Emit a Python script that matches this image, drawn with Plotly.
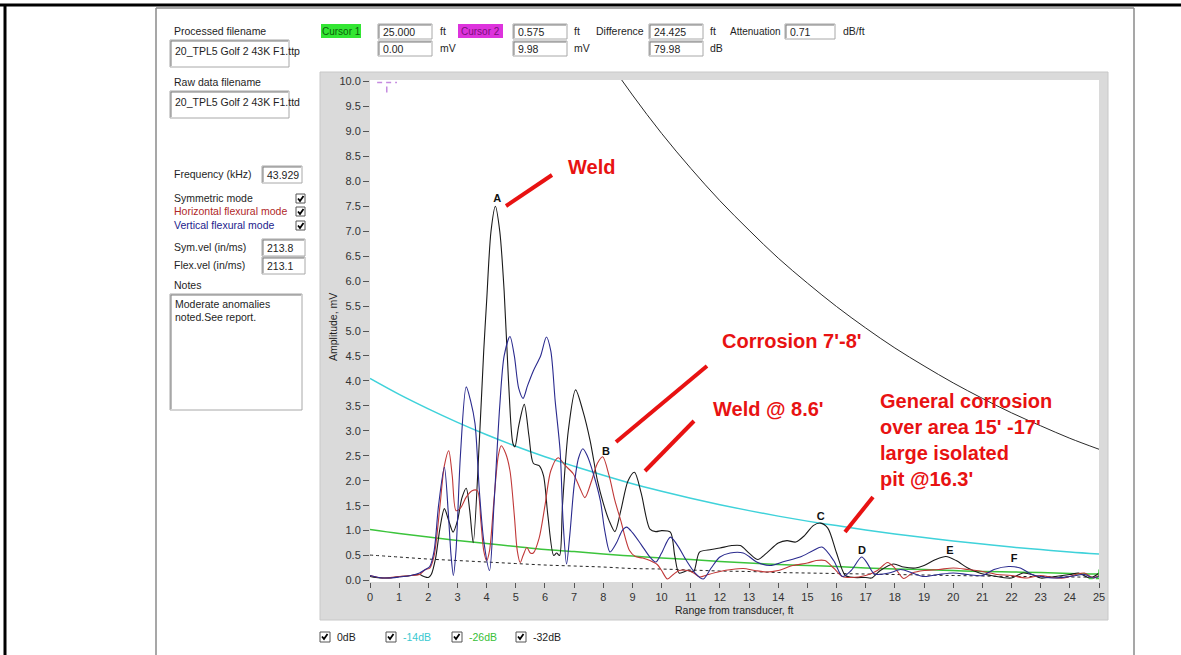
import plotly.graph_objects as go

# ---------------- data ----------------
# distance-amplitude (DAC) reference curves, sampled every foot
dac_x = list(range(0, 26))
dac_0db = [20.3, 18.71, 17.24, 15.89, 14.64, 13.49, 12.43, 11.46, 10.56, 9.73, 8.96, 8.26, 7.61,
           7.02, 6.46, 5.96, 5.49, 5.06, 4.66, 4.30, 3.96, 3.65, 3.36, 3.10, 2.85, 2.63]
dac_14db = [4.05, 3.73, 3.44, 3.17, 2.92, 2.69, 2.48, 2.29, 2.11, 1.94, 1.79, 1.65, 1.52,
            1.40, 1.29, 1.19, 1.10, 1.01, 0.93, 0.86, 0.79, 0.73, 0.67, 0.62, 0.57, 0.53]
dac_26db = [1.02, 0.94, 0.87, 0.80, 0.74, 0.68, 0.62, 0.58, 0.53, 0.49, 0.45, 0.42, 0.38,
            0.35, 0.32, 0.30, 0.28, 0.25, 0.23, 0.22, 0.20, 0.18, 0.17, 0.16, 0.14, 0.13]
dac_32db = [0.51, 0.47, 0.43, 0.40, 0.37, 0.34, 0.31, 0.29, 0.27, 0.24, 0.23, 0.21, 0.19,
            0.18, 0.16, 0.15, 0.14, 0.13, 0.12, 0.11, 0.10, 0.09, 0.08, 0.08, 0.07, 0.07]

# symmetric mode (black)
sym_x = [0.0, 0.2, 0.5, 0.8, 1.0, 1.3, 1.5, 1.7, 1.85, 2.0, 2.1, 2.25, 2.4, 2.55, 2.7, 2.85, 3.0,
         3.15, 3.3, 3.42, 3.54, 3.75, 3.9, 4.0, 4.15, 4.3, 4.45, 4.6, 4.75, 4.9, 4.97, 5.1, 5.29,
         5.45, 5.6, 5.8, 5.95, 6.1, 6.3, 6.4, 6.5, 6.6, 6.8, 7.05, 7.3, 7.55, 7.8, 8.0, 8.2, 8.4,
         8.6, 8.85, 9.07, 9.3, 9.6, 9.8, 10.0, 10.3, 10.45, 10.6, 10.9, 11.1, 11.3, 11.7, 12.0,
         12.4, 12.7, 13.0, 13.3, 13.6, 14.0, 14.3, 14.6, 14.9, 15.2, 15.45, 15.7, 16.0, 16.3,
         16.6, 17.0, 17.2, 17.5, 17.95, 18.3, 18.7, 19.0, 19.4, 19.75, 20.1, 20.5, 20.9, 21.3,
         21.7, 22.0, 22.4, 22.7, 23.0, 23.5, 24.0, 24.3, 24.7, 25.0]
sym_y = [0.08, 0.06, 0.05, 0.06, 0.08, 0.09, 0.11, 0.12, 0.08, 0.06, 0.12, 0.45, 1.05, 1.44, 1.2,
         0.97, 1.2, 1.65, 1.85, 1.4, 0.76, 2.8, 4.6, 5.6, 7.0, 7.5, 7.0, 5.8, 4.0, 2.75, 2.68, 3.1,
         3.53, 2.9, 2.35, 2.3, 2.1, 1.3, 0.5, 0.55, 0.5, 1.5, 3.0, 3.82, 3.4, 2.8, 2.0, 1.55, 1.2,
         0.98, 1.4, 2.0, 2.17, 1.75, 1.03, 0.98, 1.0, 0.97, 0.5, 0.15, 0.2, 0.18, 0.57, 0.62, 0.65,
         0.7, 0.7, 0.55, 0.42, 0.55, 0.75, 0.8, 0.77, 0.9, 1.1, 1.15, 1.05, 0.55, 0.1, 0.06, 0.06,
         0.05, 0.2, 0.33, 0.27, 0.25, 0.3, 0.42, 0.48, 0.4, 0.25, 0.15, 0.1, 0.06, 0.05, 0.15,
         0.12, 0.05, 0.08, 0.12, 0.15, 0.05, 0.15]

# horizontal flexural mode (red)
hor_x = [0.0, 0.3, 0.6, 1.0, 1.4, 1.7, 1.9, 2.05, 2.2, 2.4, 2.55, 2.7, 2.82, 2.95, 3.1, 3.3, 3.5,
         3.68, 3.8, 3.9, 4.0, 4.1, 4.25, 4.4, 4.5, 4.65, 4.8, 4.95, 5.05, 5.15, 5.25, 5.38, 5.5,
         5.6, 5.8, 6.0, 6.2, 6.45, 6.7, 6.97, 7.2, 7.37, 7.6, 7.8, 7.98, 8.2, 8.4, 8.6, 8.9, 9.1,
         9.35, 9.6, 9.85, 10.0, 10.2, 10.4, 10.6, 10.9, 11.1, 11.3, 11.6, 12.0, 12.4, 12.8, 13.2,
         13.6, 14.0, 14.5, 15.0, 15.3, 15.6, 15.9, 16.2, 16.5, 17.0, 17.4, 17.75, 18.0, 18.3,
         18.6, 19.0, 19.5, 20.0, 20.5, 21.0, 21.5, 22.0, 22.5, 23.0, 23.4, 23.8, 24.2, 24.5,
         24.8, 25.0]
hor_y = [0.1, 0.06, 0.05, 0.08, 0.1, 0.12, 0.22, 0.25, 0.5, 1.5, 2.3, 2.6, 2.1, 1.4, 1.45, 1.67,
         1.8, 1.8, 1.2, 0.6, 0.4, 0.6, 1.6, 2.5, 2.7, 2.55, 2.2, 1.3, 0.6, 0.36, 0.5, 0.66, 0.55,
         0.55, 0.85, 1.5, 2.2, 2.46, 2.3, 2.14, 1.85, 1.66, 2.0, 2.35, 2.48, 2.1, 1.6, 1.2, 0.6,
         0.48, 0.45, 0.4, 0.32, 0.2, 0.03, 0.12, 0.2, 0.2, 0.15, 0.07, 0.12, 0.18, 0.22, 0.24,
         0.2, 0.17, 0.2, 0.3, 0.35, 0.4, 0.4, 0.25, 0.08, 0.06, 0.1, 0.2, 0.36, 0.25, 0.04, 0.15,
         0.2, 0.22, 0.25, 0.22, 0.18, 0.12, 0.1, 0.05, 0.1, 0.06, 0.05, 0.12, 0.15, 0.05, 0.1]

# vertical flexural mode (blue)
ver_x = [0.0, 0.3, 0.6, 1.0, 1.4, 1.7, 1.9, 2.05, 2.2, 2.35, 2.55, 2.68, 2.78, 2.86, 2.95, 3.1,
         3.3, 3.45, 3.6, 3.75, 3.9, 4.1, 4.25, 4.45, 4.6, 4.8, 4.95, 5.1, 5.25, 5.4, 5.6, 5.85,
         6.05, 6.2, 6.35, 6.52, 6.62, 6.74, 6.85, 7.0, 7.15, 7.3, 7.45, 7.66, 7.9, 8.05, 8.23,
         8.45, 8.65, 8.8, 9.0, 9.3, 9.6, 9.8, 10.0, 10.3, 10.55, 10.85, 11.15, 11.43, 11.7, 12.0,
         12.35, 12.8, 13.0, 13.26, 13.72, 14.2, 14.75, 15.2, 15.5, 15.9, 16.2, 16.5, 16.86,
         17.05, 17.3, 17.8, 18.2, 18.6, 19.0, 19.5, 20.0, 20.5, 21.0, 21.4, 21.9, 22.3, 22.7,
         23.0, 23.5, 24.0, 24.5, 24.8, 25.0]
ver_y = [0.1, 0.06, 0.05, 0.07, 0.1, 0.15, 0.22, 0.28, 0.6, 1.5, 2.27, 1.4, 0.5, 0.1, 0.6, 2.5,
         3.88, 3.6, 3.15, 1.8, 0.8, 0.2, 1.5, 3.5, 4.5, 4.89, 4.5, 3.85, 3.65, 3.9, 4.2, 4.5,
         4.88, 4.6, 3.6, 2.6, 1.2, 0.33, 0.9, 1.9, 2.45, 2.64, 2.5, 2.14, 1.6, 1.0, 0.57, 0.75,
         1.0, 1.07, 0.96, 0.72, 0.47, 0.37, 0.55, 0.87, 0.7, 0.4, 0.15, 0.03, 0.25, 0.47, 0.55,
         0.55, 0.48, 0.37, 0.3, 0.38, 0.47, 0.6, 0.67, 0.4, 0.08, 0.2, 0.47, 0.35, 0.13, 0.15,
         0.22, 0.15, 0.08, 0.12, 0.15, 0.12, 0.1, 0.22, 0.28, 0.25, 0.12, 0.08, 0.05, 0.08, 0.12,
         0.05, 0.08]

# peak labels
peak_labels = ["A", "B", "C", "D", "E", "F"]
peak_x = [4.36, 8.09, 15.46, 16.87, 19.89, 22.09]
peak_y = [7.65, 2.57, 1.27, 0.58, 0.58, 0.42]

# cursors
cursor1 = (25.000, 0.00)
cursor2 = (0.575, 9.98)

x_ticks = list(range(0, 26))
y_ticks = [i * 0.5 for i in range(0, 21)]

# panel text values
processed_name = "20_TPL5 Golf 2 43K F1.ttp"
raw_name = "20_TPL5 Golf 2 43K F1.ttd"
frequency = "43.929"
sym_vel = "213.8"
flex_vel = "213.1"
notes = ["Moderate anomalies", "noted.See report."]
c1_ft, c1_mv = "25.000", "0.00"
c2_ft, c2_mv = "0.575", "9.98"
diff_ft, diff_db = "24.425", "79.98"
attenuation = "0.71"

# ---------------- layout helpers ----------------
W, H = 1181, 655
L, R, T, B = 370, 82, 80, 73
PW = W - L - R
PH = H - T - B
FONT = "Liberation Sans, Arial, sans-serif"
RED = "#e81212"
UI = 10.5


def px(x):
    return (x - L) / PW


def py(y):
    return (H - B - y) / PH


shapes = []
annos = []


def rect(x0, y0, x1, y1, fill="rgba(0,0,0,0)", line="#9c9c9c", lw=1, layer="above"):
    shapes.append(dict(type="rect", xref="paper", yref="paper", x0=px(x0), x1=px(x1),
                       y0=py(y1), y1=py(y0), fillcolor=fill,
                       line=dict(color=line, width=lw), layer=layer))


def seg(x0, y0, x1, y1, color, w=1, dash="solid", layer="above"):
    shapes.append(dict(type="line", xref="paper", yref="paper", x0=px(x0), x1=px(x1),
                       y0=py(y0), y1=py(y1), line=dict(color=color, width=w, dash=dash),
                       layer=layer))


def text(x, y, s, color="#1e1e1e", size=UI, anchor="left", family=FONT, angle=0):
    annos.append(dict(xref="paper", yref="paper", x=px(x), y=py(y), text=s, showarrow=False,
                      xanchor=anchor, yanchor="middle", textangle=angle, align="left",
                      font=dict(family=family, size=size, color=color)))


def tbox(x0, y0, x1, y1, s=None):
    rect(x0, y0, x1, y1, fill="#ffffff", line="#a8a8a8", lw=1)
    seg(x0 + 1, y0 + 1, x1 - 1, y0 + 1, "#7a7a7a", 1)
    seg(x0 + 1, y0 + 1, x0 + 1, y1 - 1, "#7a7a7a", 1)
    if s is not None:
        text(x0 + 3, (y0 + y1) / 2, s)


def checkbox(x0, y0, size=9):
    rect(x0, y0, x0 + size, y0 + size, fill="#ffffff", line="#555555", lw=1)
    path = "M {} {} L {} {} L {} {}".format(
        px(x0 + 2), py(y0 + 4.5), px(x0 + 4), py(y0 + 7), px(x0 + 7.5), py(y0 + 2))
    shapes.append(dict(type="path", xref="paper", yref="paper", path=path,
                       line=dict(color="#000000", width=1.8), layer="above"))


# ---------------- frames ----------------
seg(0, 5, W, 5, "#000000", 3)
seg(5, 5, 5, H, "#000000", 3)
seg(156, 8, 1134, 8, "#8a8a8a", 1.5)
seg(156, 8, 156, H, "#8a8a8a", 1.5)
seg(1134, 8, 1134, H, "#8a8a8a", 1.5)
rect(320, 72, 1108, 620, fill="#dadada", line="#c8c8c8", lw=1, layer="below")
rect(L, T, L + PW, T + PH, fill="#ffffff", line="#ffffff", lw=0, layer="below")

# ---------------- left panel ----------------
text(172, 31, "Processed filename")
tbox(170, 40, 289, 67)
text(173, 51, processed_name)
text(172, 82, "Raw data filename")
tbox(170, 91, 289, 118)
text(173, 102, raw_name)
text(172, 174, "Frequency (kHz)")
tbox(262, 166, 302, 183, frequency)
text(172, 198, "Symmetric mode")
text(172, 211, "Horizontal flexural mode", color="#b02828")
text(172, 225, "Vertical flexural mode", color="#22228c")
checkbox(296, 194)
checkbox(296, 207)
checkbox(296, 221)
text(172, 247, "Sym.vel (in/ms)")
tbox(262, 239, 305, 256, sym_vel)
text(172, 265, "Flex.vel (in/ms)")
tbox(262, 257, 305, 274, flex_vel)
text(172, 285, "Notes")
tbox(170, 294, 302, 410)
text(173, 304, notes[0])
text(173, 317, notes[1])

# ---------------- top row ----------------
rect(321, 24, 361, 38, fill="#33e633", line="#33e633", lw=0)
text(341, 31, "Cursor 1", color="#0b5e0b", anchor="center", size=10)
tbox(378, 24, 432, 39, c1_ft)
tbox(378, 41, 432, 56, c1_mv)
text(438, 31, "ft")
text(438, 48, "mV")
rect(458, 24, 503, 38, fill="#dd33dd", line="#dd33dd", lw=0)
text(480.5, 31, "Cursor 2", color="#7a107a", anchor="center", size=10)
tbox(513, 24, 567, 39, c2_ft)
tbox(513, 41, 567, 56, c2_mv)
text(572, 31, "ft")
text(572, 48, "mV")
text(594, 31, "Difference")
tbox(649, 24, 703, 39, diff_ft)
tbox(649, 41, 703, 56, diff_db)
text(708, 31, "ft")
text(708, 48, "dB")
text(728, 31, "Attenuation", size=10)
tbox(785, 24, 835, 39, attenuation)
text(841, 31, "dB/ft")

# ---------------- bottom legend ----------------
leg = [("0dB", "#1e1e1e", 320), ("-14dB", "#38c8d0", 386), ("-26dB", "#38c038", 452),
       ("-32dB", "#1e1e1e", 516)]
for lab, col, x0 in leg:
    checkbox(x0, 632, 10)
    text(x0 + 15, 637, lab, color=col)

# ---------------- axis titles ----------------
text(333, 327, "Amplitude, mV", angle=-90, anchor="center")
text(L + PW / 2, 610, "Range from transducer, ft", anchor="center")

# ---------------- red call-outs ----------------
seg(506, 206, 552, 175, RED, 4)
seg(616, 442, 707, 366, RED, 4)
seg(645, 471, 694, 421, RED, 4)
seg(845, 532, 873, 497, RED, 4)
text(566, 167, "<b>Weld</b>", color=RED, size=20)
text(720, 341, "<b>Corrosion 7'-8'</b>", color=RED, size=20)
text(711, 409, "<b>Weld @ 8.6'</b>", color=RED, size=20)
text(878, 439.5, "<b>General corrosion<br>over area 15' -17'<br>large isolated<br>pit @16.3'</b>",
     color=RED, size=20)

# ---------------- traces ----------------
fig = go.Figure()
fig.add_trace(go.Scatter(x=dac_x, y=dac_0db, mode="lines", line=dict(color="#2a2a2a", width=1, shape="spline")))
fig.add_trace(go.Scatter(x=dac_x, y=dac_14db, mode="lines", line=dict(color="#3fd2da", width=1.5, shape="spline")))
fig.add_trace(go.Scatter(x=dac_x, y=dac_26db, mode="lines", line=dict(color="#3cc43c", width=1.5, shape="spline")))
fig.add_trace(go.Scatter(x=dac_x, y=dac_32db, mode="lines", line=dict(color="#222222", width=1, dash="3px,3px", shape="spline")))
fig.add_trace(go.Scatter(x=sym_x, y=sym_y, mode="lines", line=dict(color="#1a1a1a", width=1.1, shape="spline", smoothing=0.8)))
fig.add_trace(go.Scatter(x=hor_x, y=hor_y, mode="lines", line=dict(color="#c03838", width=1.1, shape="spline", smoothing=0.8)))
fig.add_trace(go.Scatter(x=ver_x, y=ver_y, mode="lines", line=dict(color="#2a2a8e", width=1.1, shape="spline", smoothing=0.8)))

fig.add_trace(go.Scatter(x=peak_x, y=peak_y, mode="text", text=["<b>%s</b>" % s for s in peak_labels],
                         textfont=dict(family=FONT, size=11, color="#111111"),
                         textposition="middle center", cliponaxis=False))

c2x, c2y = cursor2
shapes.append(dict(type="line", xref="x", yref="y", x0=c2x - 0.33, x1=c2x + 0.35, y0=c2y, y1=c2y,
                   line=dict(color="#c58be0", width=1.5, dash="5px,4px")))
shapes.append(dict(type="line", xref="x", yref="y", x0=c2x, x1=c2x, y0=c2y - 0.08, y1=c2y - 0.2,
                   line=dict(color="#c58be0", width=1.5)))
c1x, c1y = cursor1
shapes.append(dict(type="line", xref="x", yref="y", x0=c1x - 0.35, x1=c1x, y0=c1y + 0.04, y1=c1y + 0.04,
                   line=dict(color="#44cc44", width=1.5, dash="4px,3px")))
shapes.append(dict(type="line", xref="x", yref="y", x0=c1x, x1=c1x, y0=c1y + 0.08, y1=c1y + 0.22,
                   line=dict(color="#44cc44", width=1.5)))

fig.update_layout(
    width=W, height=H, autosize=False,
    margin=dict(l=L, r=R, t=T, b=B, pad=0),
    paper_bgcolor="#ffffff", plot_bgcolor="#fffffe",
    showlegend=False,
    shapes=shapes, annotations=annos,
    font=dict(family=FONT, size=11, color="#333333"),
)
fig.update_xaxes(range=[0, 25], tickmode="array", tickvals=x_ticks, ticktext=[str(v) for v in x_ticks],
                 ticks="outside", ticklen=5, tickwidth=1, tickcolor="#555555",
                 showgrid=False, zeroline=False, showline=False,
                 tickfont=dict(family=FONT, size=11, color="#333333"), fixedrange=True)
fig.update_yaxes(range=[-0.03, 10.03], tickmode="array", tickvals=y_ticks,
                 ticktext=["{:.1f}".format(v) for v in y_ticks],
                 ticks="outside", ticklen=6, tickwidth=1, tickcolor="#555555",
                 showgrid=False, zeroline=False, showline=False,
                 tickfont=dict(family=FONT, size=11, color="#333333"), fixedrange=True)

fig.write_html("out.html", config=dict(displayModeBar=False),
               post_script="document.body.style.margin='0px';document.body.style.overflow='hidden';")
